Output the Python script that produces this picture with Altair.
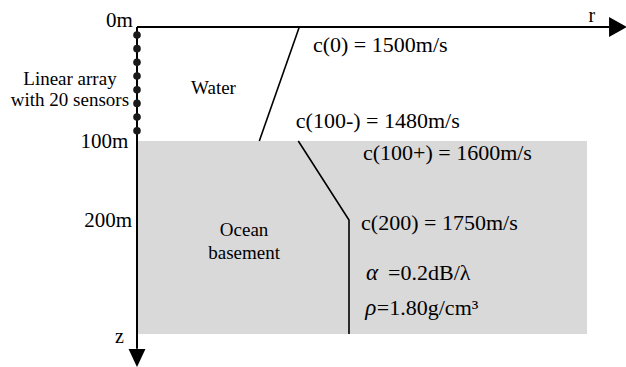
import altair as alt
import pandas as pd

# ---------------- data ----------------
depth_ticks = [0, 100, 200]
depth_tick_labels = ["0m", "100m", "200m"]
sensor_depths = [7, 19, 31, 43, 55, 67, 79, 91]
water_depths = [0, 100]
water_speeds = [1500, 1480]
basement_depths = [100, 200, 300]
basement_speeds = [1600, 1750, 1750]
speed_labels = ["c(0) = 1500m/s", "c(100-) = 1480m/s",
                "c(100+) = 1600m/s", "c(200) = 1750m/s"]
region_labels = ["Linear array", "with 20 sensors", "Water", "Ocean", "basement"]
basement_symbols = ["α", "ρ"]
basement_values = ["=0.2dB/λ", "=1.80g/cm³"]
axis_names = ["r", "z"]
basement_top, basement_bottom = 100, 300
range_max = 100

# ---------------- layout (anchors in range / depth units) ----------------
tick_label_r = [-0.9, -1.9, -1.1]
tick_label_d = [0, 108.9, 206.1]
region_r = [-14.9, -14.9, 17.0, 23.8, 23.8]
region_d = [50.9, 69.3, 59.0, 214.0, 234.2]
speed_label_r = [39.1, 35.3, 50.2, 49.8]
speed_label_d = [21.9, 88.6, 124.1, 208.8]
symbol_r = [50.9, 50.7]
symbol_d = [252.6, 283.3]
value_r = [55.8, 53.3]
axis_name_r = [101.1, -3.9]
axis_name_d = [-4.4, 307.9]
r_arrow_at, z_arrow_at = 106.9, 321.1
r_line_end, z_line_end = 104.9, 313.0

R = alt.Scale(domain=[0, 100], range=[137, 587], nice=False, zero=False)
D = alt.Scale(domain=[0, 100, 200, 300], range=[27, 141, 220, 334], nice=False, zero=False)
SW = alt.Scale(domain=[1480, 1500], range=[259.3, 299.3], nice=False, zero=False)
SB = alt.Scale(domain=[1600, 1750], range=[298.3, 349], nice=False, zero=False)

FONT = "Liberation Serif"


def X(field, scale=R):
    return alt.X(field, type="quantitative", scale=scale, axis=None)


def Y(field):
    return alt.Y(field, type="quantitative", scale=D, axis=None)


def text_layer(texts, rs, ds, align, size, italic=False):
    df = pd.DataFrame({"t": texts, "r": rs, "d": ds})
    kw = dict(align=align, baseline="alphabetic", font=FONT, fontSize=size, color="black")
    if italic:
        kw["fontStyle"] = "italic"
    return alt.Chart(df).mark_text(**kw).encode(x=X("r"), y=Y("d"), text="t:N")


basement = alt.Chart(pd.DataFrame({
    "r0": [0], "r1": [range_max], "d0": [basement_top], "d1": [basement_bottom]
})).mark_rect(color="#d9d9d9").encode(x=X("r0"), x2="r1", y=Y("d0"), y2="d1")

r_axis = alt.Chart(pd.DataFrame({"r0": [0], "r1": [r_line_end], "d": [0]})).mark_rule(
    color="black", strokeWidth=2).encode(x=X("r0"), x2="r1", y=Y("d"))
z_axis = alt.Chart(pd.DataFrame({"r": [0], "d0": [0], "d1": [z_line_end]})).mark_rule(
    color="black", strokeWidth=2).encode(x=X("r"), y=Y("d0"), y2="d1")

r_head = alt.Chart(pd.DataFrame({"r": [r_arrow_at], "d": [0]})).mark_point(
    shape="M-0.9,-1L0.9,0L-0.9,1Z", size=400, filled=True, color="black", opacity=1
).encode(x=X("r"), y=Y("d"))
z_head = alt.Chart(pd.DataFrame({"r": [0], "d": [z_arrow_at]})).mark_point(
    shape="M-0.94,-1L0.94,-1L0,1Z", size=324, filled=True, color="black", opacity=1
).encode(x=X("r"), y=Y("d"))

sensors = alt.Chart(pd.DataFrame({"r": [0] * len(sensor_depths), "d": sensor_depths})).mark_circle(
    size=58, color="#1a1a1a", opacity=1).encode(x=X("r"), y=Y("d"))

water_profile = alt.Chart(pd.DataFrame({"c": water_speeds, "d": water_depths})).mark_line(
    color="black", strokeWidth=1.6).encode(x=X("c", SW), y=Y("d"), order="d:Q")
basement_profile = alt.Chart(pd.DataFrame({"c": basement_speeds, "d": basement_depths})).mark_line(
    color="black", strokeWidth=1.6).encode(x=X("c", SB), y=Y("d"), order="d:Q")

layers = [
    basement, r_axis, z_axis, r_head, z_head, sensors, water_profile, basement_profile,
    text_layer(depth_tick_labels, tick_label_r, tick_label_d, "right", 21),
    text_layer(region_labels, region_r, region_d, "center", 19),
    text_layer(speed_labels, speed_label_r, speed_label_d, "left", 22),
    text_layer(basement_symbols, symbol_r, symbol_d, "left", 23, italic=True),
    text_layer(basement_values, value_r, symbol_d, "left", 22),
    text_layer(axis_names, axis_name_r, axis_name_d, "center", 20),
]

chart = alt.layer(*layers).resolve_scale(x="independent").properties(
    width=626, height=367, padding=0, autosize=alt.AutoSizeParams(type="none")
).configure_view(stroke=None).configure_text(font=FONT)

chart.save("out.html", embed_options={"renderer": "svg", "actions": False})
